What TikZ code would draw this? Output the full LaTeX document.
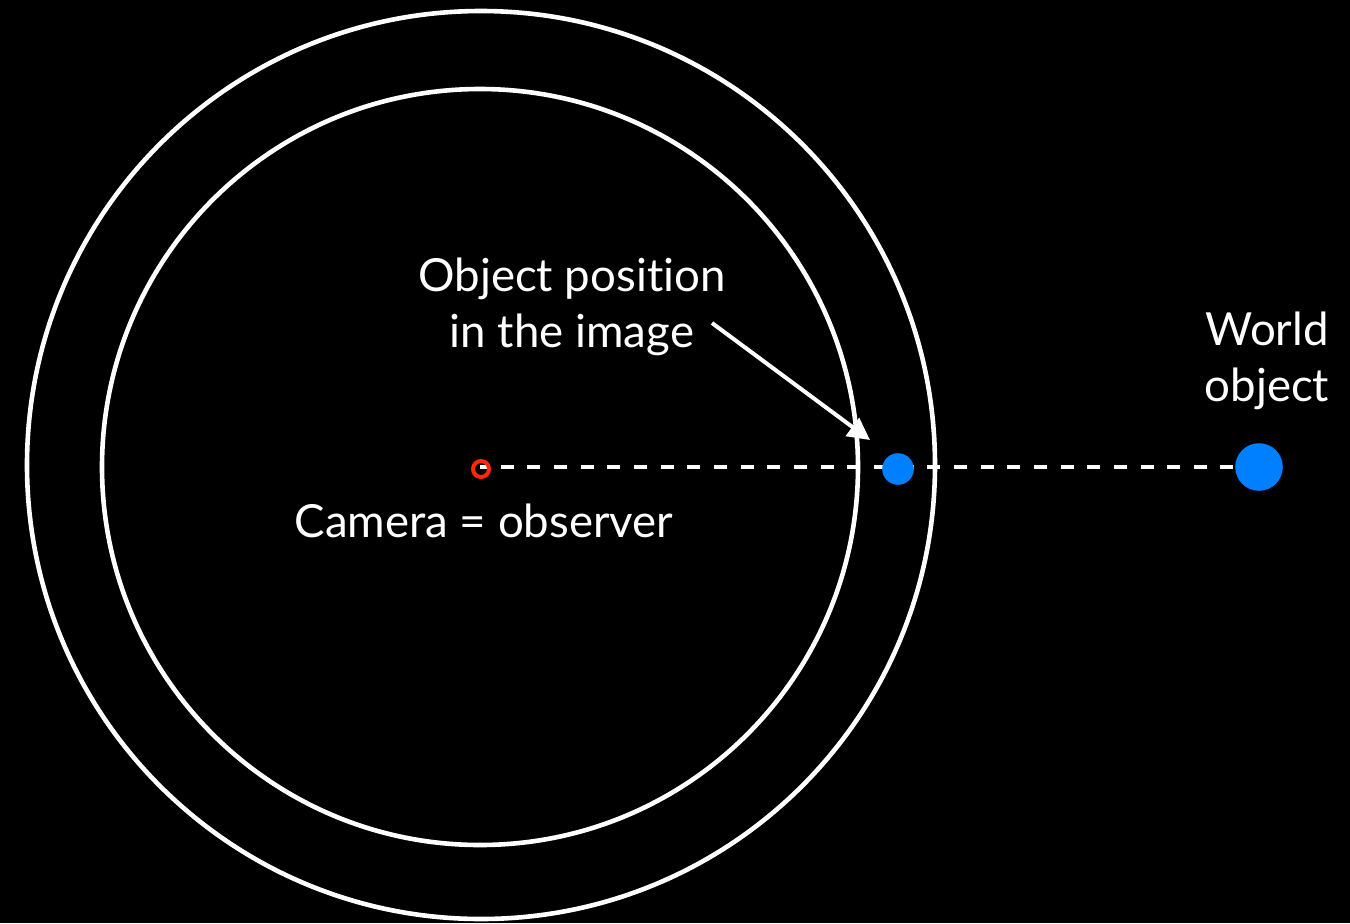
\documentclass[tikz,border=0pt]{standalone}
\usepackage{fontspec}
\setmainfont{Lato}[Ligatures={NoCommon,NoRare}]
\usetikzlibrary{arrows.meta}
\definecolor{dotblue}{HTML}{0080FF}
\definecolor{camred}{HTML}{FF2A00}
\begin{document}
\begin{tikzpicture}[x=0.5pt,y=-0.5pt,
  ringline/.style={draw=white,line width=2.3pt},
  lbl/.style={text=white,font=\fontsize{22.8pt}{28pt}\selectfont,align=center,inner sep=0pt},
  bluedot/.style={circle,fill=dotblue,inner sep=0pt}]
\fill[black] (0,0) rectangle (1350,923);
\useasboundingbox (0,0) rectangle (1350,923);
\draw[ringline] (481,465) circle[radius=454];
\draw[ringline] (480,467) circle[radius=378];
\coordinate (camc) at (480,467);
\node[bluedot,minimum size=47.6*0.5pt] (world) at (1259,467) {};
\draw[white,line width=2.1pt,dash pattern=on 6.5pt off 6.83pt,dash phase=3pt] (camc) -- (world.west);
\node[circle,draw=camred,line width=2pt,minimum size=16*0.5pt,inner sep=0pt] (cam) at (481,469) {};
\node[bluedot,minimum size=31.6*0.5pt] (img) at (898,469) {};
\node[lbl] (objlbl) at (572,307) {Object position\\in the image};
\node[lbl] (worldlbl) at (1267,361) {World\\object};
\node[lbl] (camlbl) at (484,521) {Camera = observer};
\coordinate (arrstart) at (712,323);
\coordinate (arrtip) at (870,440);
\draw[white,line width=2pt,-{Triangle[length=11pt,width=11pt]}] (arrstart) -- (arrtip);
\end{tikzpicture}
\end{document}
